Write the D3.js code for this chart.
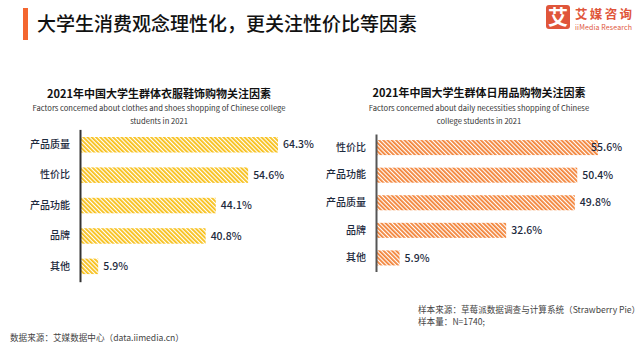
<!DOCTYPE html>
<html><head><meta charset="utf-8">
<script src="https://cdn.jsdelivr.net/npm/d3@7"></script>
<style>
html,body{margin:0;padding:0;background:#fff;}
svg{display:block;font-family:"Noto Sans CJK SC","Noto Sans",sans-serif;}
</style></head>
<body>
<svg id="chart" width="640" height="357"></svg>
<script>
// ---- data ----
const mainTitle = "大学生消费观念理性化，更关注性价比等因素";
const leftTitle = "2021年中国大学生群体衣服鞋饰购物关注因素";
const leftSubtitle = ["Factors concerned about clothes and shoes shopping of Chinese college", "students in 2021"];
const leftCategories = ["产品质量", "性价比", "产品功能", "品牌", "其他"];
const leftValues = [64.3, 54.6, 44.1, 40.8, 5.9];

const rightTitle = "2021年中国大学生群体日用品购物关注因素";
const rightSubtitle = ["Factors concerned about daily necessities shopping of Chinese", "college students in 2021"];
const rightCategories = ["性价比", "产品功能", "产品质量", "品牌", "其他"];
const rightValues = [55.6, 50.4, 49.8, 32.6, 5.9];

const sourceNote1 = "样本来源：草莓派数据调查与计算系统（Strawberry Pie）";
const sourceNote2 = "样本量：N=1740;";
const dataSource = "数据来源：艾媒数据中心（data.iimedia.cn）";

// ---- drawing ----
const svg = d3.select("#chart");
const defs = svg.append("defs");
function stripe(id, color) {
  const p = defs.append("pattern").attr("id", id).attr("patternUnits", "userSpaceOnUse")
    .attr("width", 3).attr("height", 3).attr("patternTransform", "rotate(-45)");
  p.append("rect").attr("width", 3).attr("height", 3).attr("fill", "#fff");
  p.append("rect").attr("width", 1.8).attr("height", 3).attr("fill", color);
}
stripe("yellowStripe", "#f7bf16");
stripe("orangeStripe", "#f28236");

// header
svg.append("rect").attr("x", 23).attr("y", 8).attr("width", 5).attr("height", 32).attr("fill", "#f4662f");
svg.append("text").attr("x", 37).attr("y", 31).attr("font-size", 19).attr("fill", "#111")
  .attr("font-weight", 500).text(mainTitle);

// logo
svg.append("rect").attr("x", 546).attr("y", 5).attr("width", 24).attr("height", 24).attr("rx", 3).attr("fill", "#e0553a");
svg.append("text").attr("x", 558).attr("y", 24.5).attr("text-anchor", "middle").attr("font-size", 20)
  .attr("font-weight", 700).attr("fill", "#fff").text("艾");
svg.append("text").attr("x", 575).attr("y", 18.5).attr("font-size", 12.5).attr("font-weight", 700)
  .attr("fill", "#e0553a").attr("textLength", 57).text("艾媒咨询");
svg.append("text").attr("x", 575).attr("y", 29.5).attr("font-size", 7)
  .attr("fill", "#e0553a").attr("textLength", 57).text("iiMedia Research");

function panel(cfg) {
  const g = svg.append("g");
  g.append("text").attr("x", cfg.cx).attr("y", cfg.titleY).attr("text-anchor", "middle")
    .attr("font-size", 11).attr("font-weight", 700).attr("fill", "#111").text(cfg.title);
  cfg.subtitle.forEach((s, i) => {
    g.append("text").attr("x", cfg.cx).attr("y", cfg.subY + i * 13).attr("text-anchor", "middle")
      .attr("font-size", 7.6).attr("fill", "#333").text(s);
  });
  const y = d3.scaleBand().domain(cfg.categories).range(cfg.yRange)
    .paddingInner(cfg.padIn).paddingOuter(cfg.padOut);
  const x = d3.scaleLinear().domain([0, d3.max(cfg.values)]).range(cfg.xRange);
  const data = cfg.categories.map((c, i) => ({c, v: cfg.values[i]}));
  g.selectAll("rect.bar").data(data).join("rect").attr("class", "bar")
    .attr("x", x(0)).attr("y", d => y(d.c)).attr("width", d => x(d.v) - x(0))
    .attr("height", y.bandwidth()).attr("fill", `url(#${cfg.pattern})`);
  // axis
  const ax = g.append("g").attr("transform", `translate(${x(0)},0)`)
    .call(d3.axisLeft(y).tickSize(0).tickPadding(10));
  ax.select(".domain").attr("stroke", cfg.axisColor).attr("stroke-width", 2);
  ax.selectAll("text").attr("font-size", 10).attr("fill", "#1d2a3d").attr("font-weight", 500)
    .attr("font-family", '"Noto Sans CJK SC",sans-serif');
  // value labels
  g.selectAll("text.val").data(data).join("text").attr("class", "val")
    .attr("y", d => y(d.c) + y.bandwidth() / 2).attr("dy", "0.35em")
    .attr("font-size", 10.5).attr("font-weight", 500).attr("fill", "#1d2a3d")
    .text(d => d.v.toFixed(1) + "%")
    .attr("x", function(d) {
      const w = this.getComputedTextLength();
      return Math.min(x(d.v) + 5, cfg.labelLimit - w);
    });
}

panel({title: leftTitle, subtitle: leftSubtitle, categories: leftCategories, values: leftValues,
  cx: 159, titleY: 98, subY: 111, yRange: [129.4, 281.7], padIn: 0.49, padOut: 0.25,
  xRange: [80, 278], pattern: "yellowStripe", axisColor: "#333", labelLimit: 640});
panel({title: rightTitle, subtitle: rightSubtitle, categories: rightCategories, values: rightValues,
  cx: 479, titleY: 97, subY: 110.5, yRange: [134, 271.5], padIn: 0.455, padOut: 0.22,
  xRange: [376, 598], pattern: "orangeStripe", axisColor: "#555", labelLimit: 622});

// footer
svg.append("text").attr("x", 418).attr("y", 313).attr("font-size", 8.6).attr("fill", "#444").text(sourceNote1);
svg.append("text").attr("x", 418).attr("y", 325).attr("font-size", 8.6).attr("fill", "#444").text(sourceNote2);
svg.append("text").attr("x", 10).attr("y", 341).attr("font-size", 8.6).attr("fill", "#444").text(dataSource);
</script>
</body></html>
